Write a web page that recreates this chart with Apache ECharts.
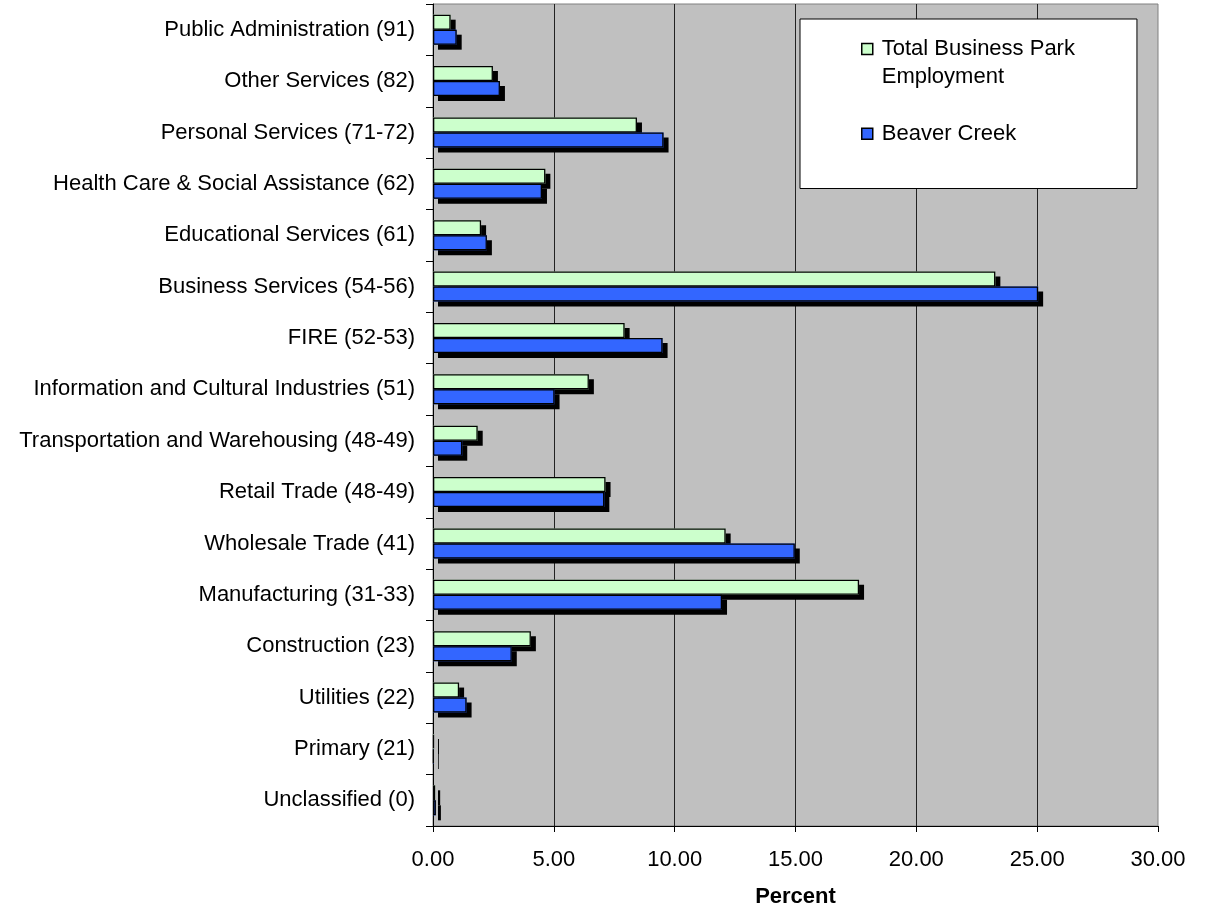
<!DOCTYPE html>
<html>
<head>
<meta charset="utf-8">
<script src="https://cdn.jsdelivr.net/npm/echarts@6/dist/echarts.min.js"></script>
<style>
html,body{margin:0;padding:0;background:#fff;}
#chart{width:1207px;height:911px;}
</style>
</head>
<body>
<div id="chart"></div>
<script>
var categories = [
  'Public Administration (91)',
  'Other Services (82)',
  'Personal Services (71-72)',
  'Health Care & Social Assistance (62)',
  'Educational Services (61)',
  'Business Services (54-56)',
  'FIRE (52-53)',
  'Information and Cultural Industries (51)',
  'Transportation and Warehousing (48-49)',
  'Retail Trade (48-49)',
  'Wholesale Trade (41)',
  'Manufacturing (31-33)',
  'Construction (23)',
  'Utilities (22)',
  'Primary (21)',
  'Unclassified (0)'
];
var totalBusinessPark = [0.73, 2.48, 8.44, 4.65, 1.99, 23.27, 7.93, 6.45, 1.85, 7.14, 12.11, 17.63, 4.05, 1.08, 0.04, 0.09];
var beaverCreek = [0.98, 2.77, 9.54, 4.51, 2.23, 25.04, 9.50, 5.03, 1.21, 7.09, 14.97, 11.96, 3.26, 1.39, 0.03, 0.12];
var seriesNames = ['Total Business Park Employment', 'Beaver Creek'];
var xTicks = [0, 5, 10, 15, 20, 25, 30];

var FONT = '"Liberation Sans", Arial, sans-serif';
var GREEN = '#ccffcc', BLUE = '#3366ff';
var chart = echarts.init(document.getElementById('chart'), null, {renderer: 'canvas'});

function shadowStyle(color) {
  return {color: color, borderWidth: 0, shadowColor: '#000', shadowBlur: 0, shadowOffsetX: 5, shadowOffsetY: 5};
}
function borderStyle(color) {
  return {color: color, borderColor: '#000', borderWidth: 1.3};
}

var catAxisCommon = {
  type: 'category',
  data: categories,
  inverse: true
};

chart.setOption({
  animation: false,
  backgroundColor: '#fff',
  grid: {
    left: 433, right: 49, top: 4, bottom: 85,
    outerBoundsMode: 'none',
    containLabel: false,
    show: true, backgroundColor: '#c0c0c0', borderColor: '#808080', borderWidth: 1
  },
  legend: {
    orient: 'vertical',
    left: 800, top: 19,
    padding: [16, 62, 34.5, 61],
    backgroundColor: '#fff',
    borderColor: '#000',
    borderWidth: 1,
    itemGap: 22.5,
    itemWidth: 15,
    itemHeight: 39,
    selectedMode: false,
    textStyle: {fontFamily: FONT, fontSize: 22, color: '#000', lineHeight: 28},
    itemStyle: {borderColor: '#000', borderWidth: 1.5, shadowColor: 'rgba(0,0,0,0)', shadowBlur: 0, shadowOffsetX: 0, shadowOffsetY: 0},
    formatter: function (name) {
      return name === seriesNames[0] ? 'Total Business Park\nEmployment' : name;
    },
    data: [
      {name: seriesNames[0], icon: 'path://M0,0h11v11h-11Z M0,39 M15,0'},
      {name: seriesNames[1], icon: 'path://M0,14h11v11h-11Z M0,0 M15,39'}
    ]
  },
  xAxis: {
    type: 'value',
    min: xTicks[0], max: xTicks[xTicks.length - 1], interval: 5,
    name: 'Percent',
    nameLocation: 'middle',
    nameGap: 60,
    nameTextStyle: {fontFamily: FONT, fontSize: 22, fontWeight: 'bold', color: '#000'},
    axisLine: {show: true, lineStyle: {color: '#000', width: 1}},
    axisTick: {show: true, length: 6, lineStyle: {color: '#000'}},
    axisLabel: {
      fontFamily: FONT, fontSize: 22, color: '#000', margin: 23,
      formatter: function (v) { return v.toFixed(2); }
    },
    splitLine: {show: true, showMinLine: false, showMaxLine: false, lineStyle: {color: '#222', width: 1}}
  },
  yAxis: [
    Object.assign({}, catAxisCommon, {
      axisLine: {show: true, lineStyle: {color: '#000', width: 1}},
      axisTick: {show: true, length: 7, lineStyle: {color: '#000'}},
      axisLabel: {fontFamily: FONT, fontSize: 22, color: '#000', margin: 18, interval: 0},
      splitLine: {show: false}
    }),
    Object.assign({}, catAxisCommon, {
      position: 'left',
      show: false
    })
  ],
  series: [
    {
      name: seriesNames[0], type: 'bar', data: totalBusinessPark, yAxisIndex: 0,
      barWidth: 15, barGap: '0%', itemStyle: shadowStyle(GREEN)
    },
    {
      name: seriesNames[1], type: 'bar', data: beaverCreek, yAxisIndex: 0,
      barWidth: 15, barGap: '0%', itemStyle: shadowStyle(BLUE)
    },
    {
      name: seriesNames[0], type: 'bar', data: totalBusinessPark, yAxisIndex: 1,
      barWidth: 15, barGap: '0%', itemStyle: borderStyle(GREEN)
    },
    {
      name: seriesNames[1], type: 'bar', data: beaverCreek, yAxisIndex: 1,
      barWidth: 15, barGap: '0%', itemStyle: borderStyle(BLUE)
    }
  ]
});
</script>
</body>
</html>
